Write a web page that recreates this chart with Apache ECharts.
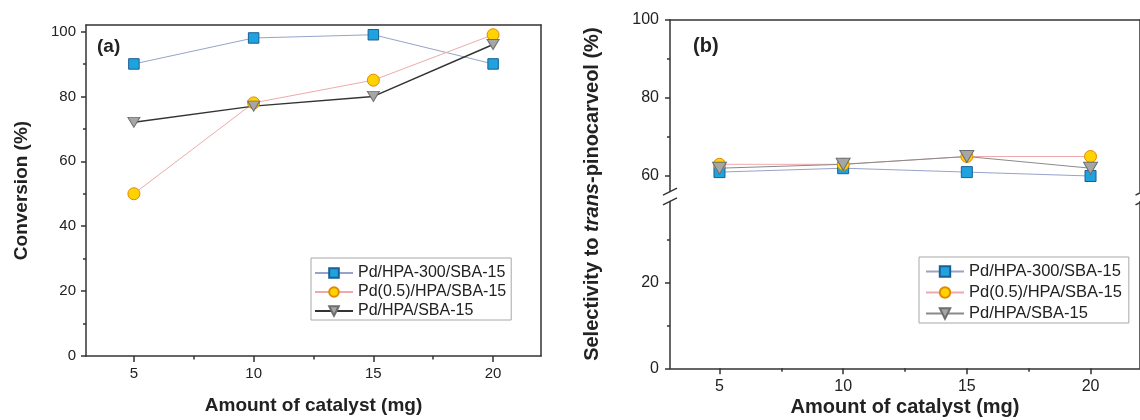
<!DOCTYPE html>
<html>
<head>
<meta charset="utf-8">
<script src="https://cdn.jsdelivr.net/npm/echarts@6/dist/echarts.min.js"></script>
<style>
html,body{margin:0;padding:0;background:#fff;}
#chart{width:1140px;height:420px;}
</style>
</head>
<body>
<div id="chart"></div>
<script>
// ---- data ----
const catalystAmount = [5, 10, 15, 20];
const seriesNames = ['Pd/HPA-300/SBA-15', 'Pd(0.5)/HPA/SBA-15', 'Pd/HPA/SBA-15'];
const conversionHPA300 = [90, 98, 99, 90];
const conversionPd05 = [50, 78, 85, 99];
const conversionHPA = [72, 77, 80, 96];
const selectivityHPA300 = [61, 62, 61, 60];
const selectivityPd05 = [63, 63, 65, 65];
const selectivityHPA = [62, 63, 65, 62];
const xTickValues = [5, 10, 15, 20];
const xMinorTickValues = [7.5, 12.5, 17.5];
const convTickValues = [0, 20, 40, 60, 80, 100];
const convMinorTickValues = [10, 30, 50, 70, 90];
const selUpperTickValues = [60, 80, 100];
const selUpperMinorTickValues = [70, 90];
const selLowerTickValues = [0, 20];
const selLowerMinorTickValues = [10, 30];

const FONT = "'Liberation Sans', Arial, Helvetica, sans-serif";
const AX = '#333';
const TXT = '#222';

function pairs(ys) { return catalystAmount.map((x, i) => [x, ys[i]]); }

const chart = echarts.init(document.getElementById('chart'), null, {renderer: 'canvas'});

function lineOnlyAxis(extra) {
  return Object.assign({
    type: 'value',
    axisLine: {show: true, onZero: false, lineStyle: {color: AX, width: 1.5}},
    axisTick: {show: false},
    axisLabel: {show: false},
    splitLine: {show: false}
  }, extra);
}
function majorAxis(extra, ticks, fontSize, margin, len) {
  return Object.assign({
    type: 'value',
    axisLine: {show: true, onZero: false, lineStyle: {color: AX, width: 1.5}},
    axisTick: {show: true, inside: false, length: len, customValues: ticks, lineStyle: {color: AX, width: 1.5}},
    axisLabel: {show: true, customValues: ticks, fontFamily: FONT, fontSize: fontSize, color: TXT, margin: margin},
    splitLine: {show: false}
  }, extra);
}
function minorAxis(extra, ticks, len) {
  return Object.assign({
    type: 'value',
    axisLine: {show: false, onZero: false},
    axisTick: {show: true, inside: false, length: len, customValues: ticks, lineStyle: {color: AX, width: 1.5}},
    axisLabel: {show: false},
    splitLine: {show: false}
  }, extra);
}

const grids = [
  {left: 86, top: 25, width: 455, height: 335},          // (a)
  {left: 670, top: 20, width: 472.5, height: 171.6},     // (b) upper
  {left: 670, top: 201.4, width: 472.5, height: 166.9},  // (b) lower
  {left: 670, top: 20, width: 472.5, height: 348.3}      // (b) name holder
];

const xAxes = [
  majorAxis({gridIndex: 0, position: 'bottom', min: 3, max: 22,
    name: 'Amount of catalyst (mg)', nameLocation: 'middle', nameGap: 40,
    nameTextStyle: {fontFamily: FONT, fontSize: 19, fontWeight: 'bold', color: TXT}}, xTickValues, 15, 10, 6),
  minorAxis({gridIndex: 0, position: 'bottom', min: 3, max: 22}, xMinorTickValues, 3.5),
  lineOnlyAxis({gridIndex: 0, position: 'top', min: 3, max: 22}),
  lineOnlyAxis({gridIndex: 1, position: 'top', min: 3, max: 22}),
  majorAxis({gridIndex: 2, position: 'bottom', min: 3, max: 22,
    name: 'Amount of catalyst (mg)', nameLocation: 'middle', nameGap: 29,
    nameTextStyle: {fontFamily: FONT, fontSize: 20, fontWeight: 'bold', color: TXT}}, xTickValues, 16, 10, 6),
  minorAxis({gridIndex: 2, position: 'bottom', min: 3, max: 22}, xMinorTickValues, 3.5),
  {type: 'value', gridIndex: 3, min: 3, max: 22, show: false}
];

const yAxes = [
  majorAxis({gridIndex: 0, position: 'left', min: 0, max: 102,
    name: 'Conversion (%)', nameLocation: 'middle', nameGap: 55,
    nameTextStyle: {fontFamily: FONT, fontSize: 19, fontWeight: 'bold', color: TXT}}, convTickValues, 15, 10, 5),
  minorAxis({gridIndex: 0, position: 'left', min: 0, max: 102}, convMinorTickValues, 3),
  lineOnlyAxis({gridIndex: 0, position: 'right', min: 0, max: 102}),
  majorAxis({gridIndex: 1, position: 'left', min: 56, max: 100}, selUpperTickValues, 16, 11, 5),
  minorAxis({gridIndex: 1, position: 'left', min: 56, max: 100}, selUpperMinorTickValues, 3),
  lineOnlyAxis({gridIndex: 1, position: 'right', min: 56, max: 100}),
  majorAxis({gridIndex: 2, position: 'left', min: 0, max: 39}, selLowerTickValues, 16, 11, 5),
  minorAxis({gridIndex: 2, position: 'left', min: 0, max: 39}, selLowerMinorTickValues, 3),
  lineOnlyAxis({gridIndex: 2, position: 'right', min: 0, max: 39}),
  {type: 'value', gridIndex: 3, position: 'left', min: 0, max: 100,
    axisLine: {show: false}, axisTick: {show: false}, axisLabel: {show: false}, splitLine: {show: false},
    name: '{n|Selectivity to }{i|trans}{n|-pinocarveol (%)}', nameLocation: 'middle', nameGap: 68,
    nameTextStyle: {color: TXT, rich: {
      n: {fontFamily: FONT, fontSize: 20, fontWeight: 'bold', color: TXT},
      i: {fontFamily: FONT, fontSize: 20, fontWeight: 'bold', fontStyle: 'italic', color: TXT}
    }}}
];

const styles = [
  {symbol: 'rect', fill: '#1ea3de', border: '#1a5f96', line: '#97a3c8'},
  {symbol: 'circle', fill: '#ffd200', border: '#e08a00', line: '#eeaaaa'},
  {symbol: 'triangle', fill: '#a6a6a6', border: '#6e6e6e', line: '#333333'}
];

function mkSeries(prefix, idx, vals, xi, yi, size, lineColor, lineWidth) {
  const s = styles[idx];
  return {
    type: 'line', name: prefix + seriesNames[idx], data: pairs(vals),
    xAxisIndex: xi, yAxisIndex: yi,
    symbol: s.symbol, symbolSize: size, symbolRotate: s.symbol === 'triangle' ? 180 : 0,
    showSymbol: true,
    lineStyle: {color: lineColor, width: lineWidth},
    itemStyle: {color: s.fill, borderColor: s.border, borderWidth: 1},
    emphasis: {disabled: true}, silent: true
  };
}

const series = [
  mkSeries('a:', 0, conversionHPA300, 0, 0, 10.5, styles[0].line, 1),
  mkSeries('a:', 1, conversionPd05, 0, 0, 12, styles[1].line, 1),
  mkSeries('a:', 2, conversionHPA, 0, 0, [12, 10], '#333333', 1.5),
  mkSeries('b:', 0, selectivityHPA300, 3, 3, 11, styles[0].line, 1),
  mkSeries('b:', 1, selectivityPd05, 3, 3, 12, styles[1].line, 1),
  mkSeries('b:', 2, selectivityHPA, 3, 3, [14, 12], '#8a8a8a', 1)
];

function legendFor(prefix, left, top, padding, gap, itemH, fs) {
  return {
    orient: 'vertical', left: left, top: top, padding: padding, itemGap: gap,
    itemWidth: 38, itemHeight: itemH, selectedMode: false,
    borderColor: '#a8a8a8', borderWidth: 1, backgroundColor: '#fff',
    data: seriesNames.map(n => prefix + n),
    formatter: name => name.slice(2),
    textStyle: {fontFamily: FONT, fontSize: fs, color: TXT, padding: [0, 0, 0, 0]}
  };
}

function slash(cx, cy) {
  return {type: 'line', silent: true, z: 100,
    shape: {x1: cx - 7, y1: cy + 3.5, x2: cx + 7, y2: cy - 3.5},
    style: {stroke: AX, lineWidth: 1.5}};
}

const option = {
  animation: false,
  backgroundColor: '#fff',
  grid: grids,
  xAxis: xAxes,
  yAxis: yAxes,
  series: series,
  legend: [
    legendFor('a:', 311, 258, [7, 5, 1, 3], 3, 12, 16),
    legendFor('b:', 919, 257, [6, 7, 1, 6], 4, 13, 16.5)
  ],
  graphic: [
    {type: 'text', left: 97, top: 37, silent: true,
      style: {text: '(a)', font: "bold 19px 'Liberation Sans', Arial, sans-serif", fill: TXT}},
    {type: 'text', left: 693, top: 36, silent: true,
      style: {text: '(b)', font: "bold 20px 'Liberation Sans', Arial, sans-serif", fill: TXT}},
    slash(670, 191.6), slash(670, 201.4),
    slash(1142.5, 191.6), slash(1142.5, 201.4)
  ]
};
chart.setOption(option);
</script>
</body>
</html>
